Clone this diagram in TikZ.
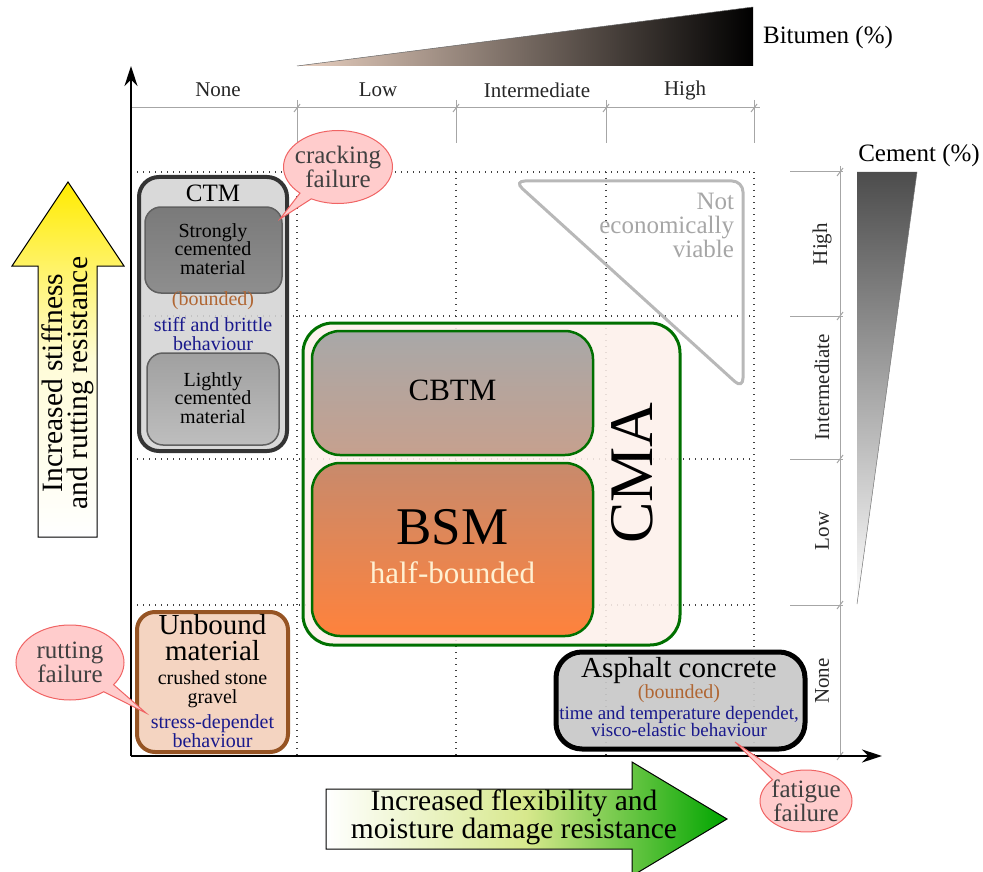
\documentclass[tikz,border=0pt]{standalone}
\usepackage{fontspec}
\setmainfont{Liberation Serif}
\usetikzlibrary{shapes.callouts,arrows.meta}
\definecolor{bitL}{RGB}{233,208,192}
\definecolor{brownT}{RGB}{176,102,51}
\definecolor{navyT}{RGB}{25,25,140}
\definecolor{gBorder}{RGB}{0,112,0}
\definecolor{cmaFill}{RGB}{253,240,234}
\definecolor{ctmFill}{RGB}{212,212,212}
\definecolor{ctmBorder}{RGB}{52,52,52}
\definecolor{strTop}{RGB}{122,122,122}
\definecolor{strBot}{RGB}{142,142,142}
\definecolor{ligTop}{RGB}{160,160,160}
\definecolor{ligBot}{RGB}{190,190,190}
\definecolor{innerBorder}{RGB}{96,96,96}
\definecolor{cbtmTop}{RGB}{168,168,168}
\definecolor{cbtmBot}{RGB}{198,160,142}
\definecolor{bsmTop}{RGB}{200,138,108}
\definecolor{bsmBot}{RGB}{255,130,60}
\definecolor{halfT}{RGB}{255,240,210}
\definecolor{unbFill}{RGB}{243,210,190}
\definecolor{unbBorder}{RGB}{150,84,36}
\definecolor{asphFill}{RGB}{200,200,200}
\definecolor{callFill}{RGB}{255,204,204}
\definecolor{callBorder}{RGB}{240,100,100}
\definecolor{yelTop}{RGB}{255,235,0}
\definecolor{yelMid}{RGB}{255,252,215}
\definecolor{grnR}{RGB}{0,165,0}
\definecolor{grnM}{RGB}{215,232,140}
\begin{document}
\begin{tikzpicture}[x=1pt,y=-1pt,
  every node/.style={inner sep=0pt,outer sep=0pt},
  fs/.style 2 args={font=\fontsize{#1}{#2}\selectfont},
  scaleline/.style={draw=black!35,line width=1pt},
  gridline/.style={draw=black!75,line width=1.2pt,dash pattern=on 1.2pt off 4.8pt},
  callout/.style={ellipse callout,draw=callBorder,line width=1pt,fill=callFill},
  calltext/.style={fs={25}{22},text=black!75,align=center},
  boxtext/.style={align=center},
  axis/.style={line width=2pt,-{Stealth[length=20pt,width=13pt]}}
]
\useasboundingbox (0,0) rectangle (983,872);

% bitumen scale
\shade[left color=bitL,right color=black] (297,66) -- (753,66) -- (753,7) -- cycle;
\draw[black!60,line width=0.5pt] (297,66) -- (753,7);
\node[fs={25}{28}] (bit) at (828,37) {Bitumen (\%)};

% top scale
\draw[scaleline] (131,108) -- (760,108);
\foreach \x in {297,456,606,754} {
  \draw[scaleline] (\x,100) -- (\x,143);
  \draw[scaleline] (\x-3,112) -- (\x+3,104);
}
\node[fs={21}{24},text=black!85] (tNone) at (218,90) {None};
\node[fs={21}{24},text=black!85] (tLow) at (378,90) {Low};
\node[fs={21}{24},text=black!85] (tInt) at (537,90) {Intermediate};
\node[fs={21}{24},text=black!85] (tHigh) at (685,90) {High};

% right scale
\draw[scaleline] (840,166) -- (840,756);
\foreach \y in {172,316,459,605} {
  \draw[scaleline] (790,\y) -- (843,\y);
  \draw[scaleline] (837,\y+4) -- (843,\y-4);
}
\draw[scaleline] (837,760) -- (843,752);
\node[fs={21}{24},text=black!85,rotate=90] (rHigh) at (822,244) {High};
\node[fs={21}{24},text=black!85,rotate=90] (rInt) at (822,387) {Intermediate};
\node[fs={21}{24},text=black!85,rotate=90] (rLow) at (822,531) {Low};
\node[fs={21}{24},text=black!85,rotate=90] (rNone) at (822,681) {None};

% cement scale
\shade[top color=black!70,bottom color=white] (857,172) -- (917,172) -- (857,604) -- cycle;
\draw[black!55,line width=0.5pt] (917,172) -- (857,604);
\node[fs={25}{28}] (cem) at (919,155) {Cement (\%)};

% grid
\foreach \y in {172,316,459,605} \draw[gridline] (131,\y) -- (754,\y);
\foreach \x in {297,456,606,754} \draw[gridline] (\x,172) -- (\x,756);

% axes
\coordinate (origin) at (131,756);
\coordinate (ytip) at (131,66);
\coordinate (xtip) at (882,756);
\draw[axis] (origin) -- (ytip);
\draw[axis] (origin) -- (xtip);

% not economically viable
\draw[black!28,line width=3pt,rounded corners=11pt] (514,181) -- (743,181) -- (743,389) -- cycle;
\node[fs={25}{24},text=black!35,align=right,anchor=east] (notev) at (734,225) {Not\\economically\\viable};

% CTM
\node[draw=ctmBorder,line width=4pt,fill=ctmFill,fill opacity=0.88,rounded corners=20pt,
      minimum width=148pt,minimum height=274pt] (ctm) at (213,314) {};
\node[draw=innerBorder,line width=1.5pt,top color=strTop,bottom color=strBot,rounded corners=16pt,
      minimum width=137pt,minimum height=86pt] (strong) at (213.5,250) {};
\node[draw=innerBorder,line width=1.5pt,top color=ligTop,bottom color=ligBot,rounded corners=16pt,
      minimum width=132pt,minimum height=92pt] (light) at (213,399) {};
\node[fs={25}{28}] (ctmT) at (213,193) {CTM};
\node[fs={20}{18.5},boxtext] (strongT) at (213,249) {Strongly\\cemented\\material};
\node[fs={20}{24},text=brownT] (ctmB) at (213,301) {(bounded)};
\node[fs={20}{18.5},text=navyT,boxtext] (ctmBeh) at (213,334) {stiff and brittle\\behaviour};
\node[fs={20}{18.5},boxtext] (lightT) at (213,398) {Lightly\\cemented\\material};

% CMA
\node[draw=gBorder,line width=3pt,fill=cmaFill,fill opacity=0.88,rounded corners=30pt,
      minimum width=377pt,minimum height=322pt] (cma) at (491.5,484) {};
\node[draw=gBorder,line width=2.5pt,top color=cbtmTop,bottom color=cbtmBot,rounded corners=28pt,
      minimum width=281pt,minimum height=124pt] (cbtm) at (452.5,393) {};
\node[draw=gBorder,line width=2.5pt,top color=bsmTop,bottom color=bsmBot,rounded corners=28pt,
      minimum width=281pt,minimum height=173pt] (bsm) at (452.5,549.5) {};
\node[fs={31}{34}] (cbtmT) at (452.5,390) {CBTM};
\node[fs={53}{56}] (bsmT) at (452.5,527) {BSM};
\node[fs={31}{34},text=halfT] (halfB) at (452.5,573) {half-bounded};
\node[fs={62}{66},rotate=90] (cmaT) at (632,473) {CMA};

% Unbound
\node[draw=unbBorder,line width=4pt,fill=unbFill,fill opacity=0.95,rounded corners=18pt,
      minimum width=151pt,minimum height=140pt] (unb) at (212.5,682) {};
\node[fs={29}{26},boxtext] (unbT) at (212.5,638) {Unbound\\material};
\node[fs={20}{18.5},boxtext] (unbS) at (212.5,689) {crushed stone\\gravel};
\node[fs={20}{17},text=navyT,boxtext] (unbB) at (212.5,731) {stress-dependet\\behaviour};

% Asphalt concrete
\node[draw=black,line width=5pt,fill=asphFill,fill opacity=0.92,rounded corners=26pt,
      minimum width=249pt,minimum height=97pt] (asph) at (680.5,700.5) {};
\node[fs={29}{32}] (asphT) at (679,671) {Asphalt concrete};
\node[fs={20}{24},text=brownT] (asphB) at (679,694) {(bounded)};
\node[fs={19}{17.5},text=navyT,boxtext] (asphBeh) at (679,721.5) {time and temperature dependet,\\visco-elastic behaviour};

% callouts
\coordinate (crackTip) at (280,219);
\coordinate (rutTip) at (146,713);
\coordinate (fatTip) at (735,742);
\node[callout,minimum width=109pt,minimum height=73pt,callout absolute pointer={(crackTip)}] (crack) at (338,167) {};
\node[calltext] (crackT) at (338,167) {cracking\\failure};
\node[callout,minimum width=108pt,minimum height=75pt,callout absolute pointer={(rutTip)}] (rut) at (70,662.5) {};
\node[calltext] (rutT) at (70,662.5) {rutting\\failure};
\node[callout,minimum width=92pt,minimum height=62pt,callout absolute pointer={(fatTip)}] (fat) at (806,801) {};
\node[calltext] (fatT) at (806,801) {fatigue\\failure};

% yellow arrow
\draw[line width=1pt,top color=yelTop,bottom color=white,middle color=yelMid]
  (38,537) -- (38,266) -- (12,266) -- (68,182) -- (124,266) -- (97,266) -- (97,537) -- cycle;
\node[fs={29.5}{25},boxtext,rotate=90] (yT) at (67.5,383) {Increased stiffness\\and rutting resistance};

% green arrow
\draw[line width=1pt,left color=white,right color=grnR,middle color=grnM]
  (326,789) -- (632,789) -- (632,762) -- (727,819) -- (632,876) -- (632,849) -- (326,849) -- cycle;
\node[fs={29.5}{25},boxtext] (gT) at (514,817) {Increased flexibility and\\moisture damage resistance};
\end{tikzpicture}
\end{document}
